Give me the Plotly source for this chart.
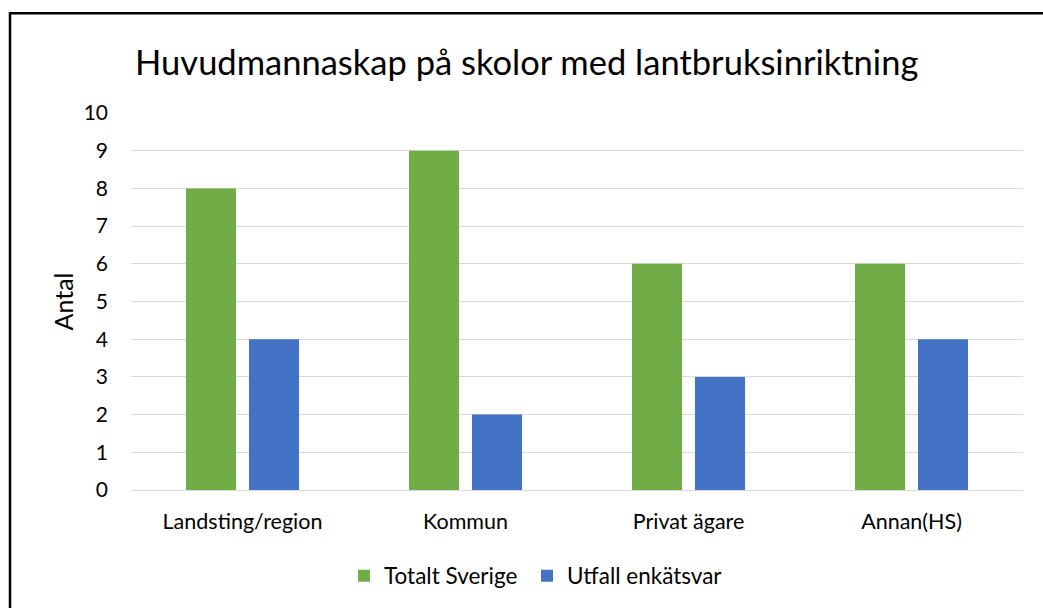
import plotly.graph_objects as go

categories = ["Landsting/region", "Kommun", "Privat ägare", "Annan(HS)"]
totalt_sverige = [8, 9, 6, 6]
utfall_enkatsvar = [4, 2, 3, 4]
y_ticks = list(range(0, 11))

FONT = "Lato, Open Sans, sans-serif"

fig = go.Figure()
fig.add_trace(go.Bar(name="Totalt Sverige", x=categories, y=totalt_sverige,
                     marker=dict(color="#70AD47", line=dict(width=0)), legend="legend"))
fig.add_trace(go.Bar(name="Utfall enkätsvar", x=categories, y=utfall_enkatsvar,
                     marker=dict(color="#4472C4", line=dict(width=0)), legend="legend2"))

L, R, T, B = 131, 20, 113, 117
W, H = 1043, 608
pw = W - L - R
ph = H - T - B

def px_to_paper_x(px):
    return (px - L) / pw

def px_to_paper_y(py):
    return (H - B - py) / ph

legend_common = dict(orientation="h", xanchor="left", y=px_to_paper_y(576),
                     yanchor="middle", font=dict(size=22.5), itemwidth=30,
                     bgcolor="rgba(0,0,0,0)")

fig.update_layout(
    width=W, height=H,
    margin=dict(l=L, r=R, t=T, b=B),
    paper_bgcolor="white", plot_bgcolor="white",
    barmode="group", bargap=0.435, bargroupgap=0.206,
    font=dict(family=FONT, color="#000000", size=21),
    title=dict(text="Huvudmannaskap på skolor med lantbruksinriktning",
               font=dict(family=FONT, size=34.5, color="#000000"),
               x=0.505, xanchor="center", y=1 - 63 / H, yanchor="middle"),
    xaxis=dict(showgrid=False, showline=False, ticks="", tickfont=dict(size=21.5),
               ticklabelstandoff=16),
    yaxis=dict(range=[0, 10], tickvals=y_ticks, showgrid=True, gridcolor="#D9D9D9",
               gridwidth=1, zeroline=True, zerolinecolor="#D9D9D9", zerolinewidth=1,
               showline=False, ticks="", tickfont=dict(size=21),
               title=dict(text="Antal", font=dict(size=25), standoff=2),
               ticklabelstandoff=22),
    legend=dict(x=px_to_paper_x(344), **legend_common),
    legend2=dict(x=px_to_paper_x(527), **legend_common),
    showlegend=True,
)

fig.add_shape(type="rect", xref="paper", yref="paper",
              x0=px_to_paper_x(10), x1=px_to_paper_x(1060),
              y0=px_to_paper_y(640), y1=px_to_paper_y(13),
              line=dict(color="#000000", width=2.5), fillcolor="rgba(0,0,0,0)",
              layer="above")

fig.write_html("out.html", config={"displayModeBar": False},
               post_script="document.body.style.margin='0';document.body.style.overflow='hidden';")
